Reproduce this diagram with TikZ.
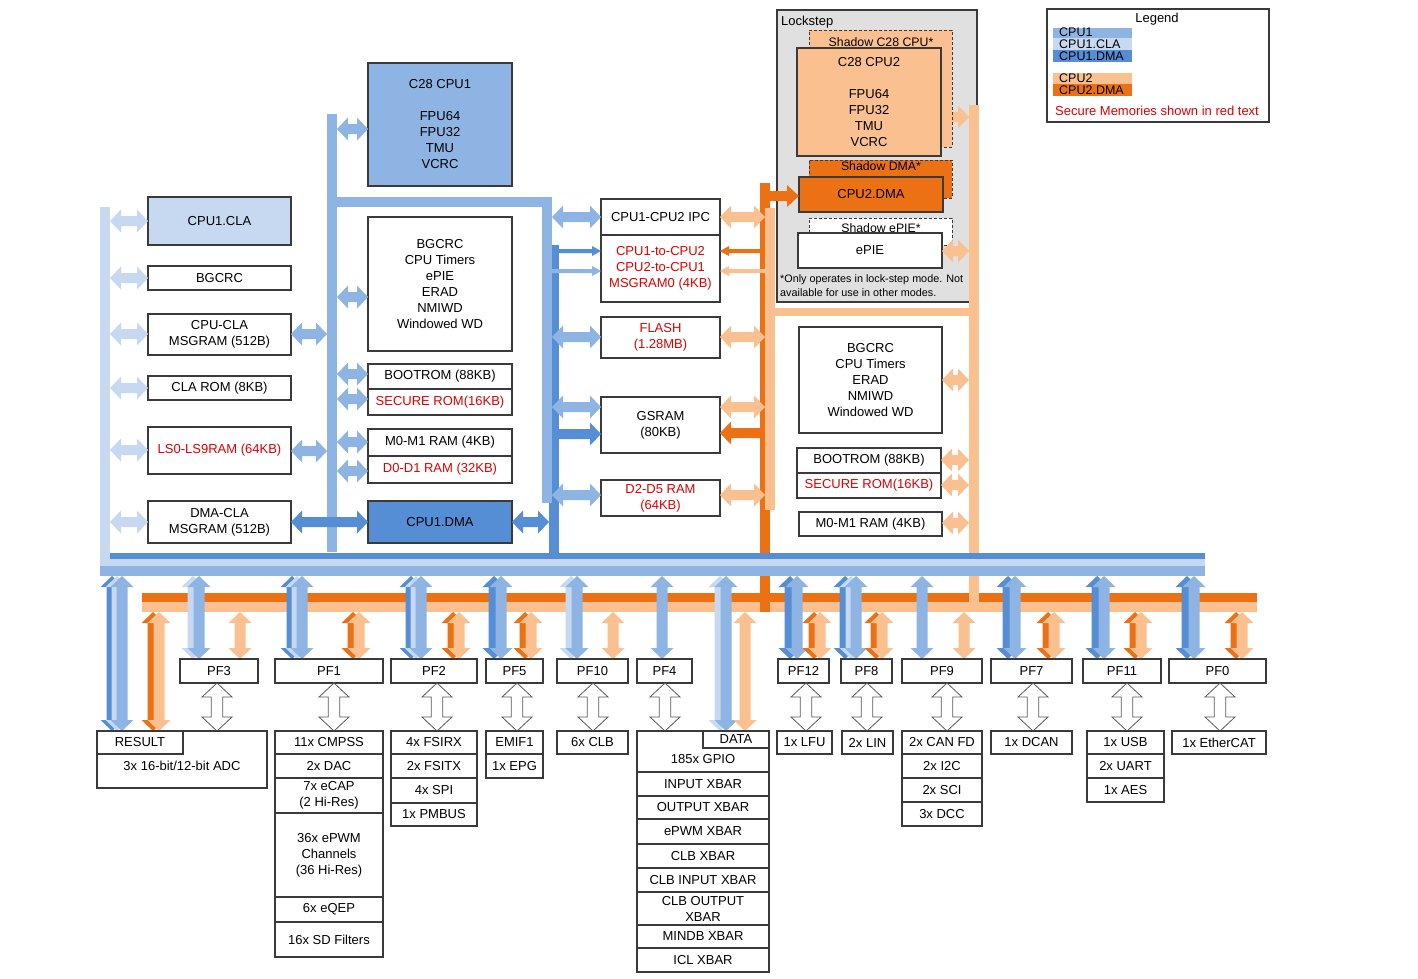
\documentclass[tikz,border=0pt]{standalone}
\usepackage{fontspec}
\setmainfont{Liberation Sans}
\definecolor{cpuone}{HTML}{8EB4E3}
\definecolor{cla}{HTML}{C6D9F1}
\definecolor{dmaone}{HTML}{558ED5}
\definecolor{cputwo}{HTML}{FAC090}
\definecolor{dmatwo}{HTML}{EC7014}
\definecolor{lockgray}{HTML}{E0E0E0}
\definecolor{bord}{HTML}{3A3A3A}
\definecolor{sred}{HTML}{DD0000}
% box from corners: name, x1, y1, x2, y2, style, text
\newcommand\bx[7]{\node[#6, minimum width={(#4)-(#2)}, minimum height={(#5)-(#3)}] (#1) at ({((#2)+(#4))/2},{((#3)+(#5))/2}) {#7};}
% vertical double block arrow: x, ytop, ybot, style, head half width, shaft half width, head length
\newcommand\vd[7]{\path[#4] ({#1},{#2}) -- ({#1+#5},{#2+#7}) -- ({#1+#6},{#2+#7}) -- ({#1+#6},{#3-#7}) -- ({#1+#5},{#3-#7}) -- ({#1},{#3}) -- ({#1-#5},{#3-#7}) -- ({#1-#6},{#3-#7}) -- ({#1-#6},{#2+#7}) -- ({#1-#5},{#2+#7}) -- cycle;}
% horizontal double block arrow: xleft, xright, y, style, hw, sw, hl
\newcommand\hd[7]{\path[#4] ({#1},{#3}) -- ({#1+#7},{#3-#5}) -- ({#1+#7},{#3-#6}) -- ({#2-#7},{#3-#6}) -- ({#2-#7},{#3-#5}) -- ({#2},{#3}) -- ({#2-#7},{#3+#5}) -- ({#2-#7},{#3+#6}) -- ({#1+#7},{#3+#6}) -- ({#1+#7},{#3+#5}) -- cycle;}
% horizontal single block arrow: xtail, xtip, y, style, hw, sw, signed hl
\newcommand\hs[7]{\path[#4] ({#1},{#3-#6}) -- ({#2-(#7)},{#3-#6}) -- ({#2-(#7)},{#3-#5}) -- ({#2},{#3}) -- ({#2-(#7)},{#3+#5}) -- ({#2-(#7)},{#3+#6}) -- ({#1},{#3+#6}) -- cycle;}
\newcommand\HA[4]{\hd{#1}{#2}{#3}{fill=#4}{11.5}{5}{11}}
\newcommand\BA[4]{\vd{#1}{#2}{#3}{fill=#4}{11.5}{5.5}{11}}
\newcommand\HO[3]{\vd{#1}{#2}{#3}{fill=white,draw=gray!70!black,line width=0.8pt}{15}{5.8}{14}}
\begin{document}
\begin{tikzpicture}[x=1pt,y=-1pt,
  font=\fontsize{13}{16}\selectfont,
  box/.style={draw=bord, line width=1.2pt, fill=white, inner sep=0pt, align=center, text=black},
  shadowbox/.style={draw=bord, line width=1pt, dash pattern=on 3pt off 2pt, inner sep=0pt},
  lbl/.style={inner sep=0pt, align=center},
  note/.style={inner sep=0pt, anchor=west, font=\fontsize{10.8}{13}\selectfont}]
\fill[white] (0,0) rectangle (1418,978);
\useasboundingbox (0,0) rectangle (1418,978);

% ---------- Lockstep region ----------
\bx{lock}{777}{10}{977}{302}{draw=bord,fill=lockgray,line width=1.2pt,inner sep=0pt}{}
\node[lbl, anchor=west] (locklbl) at (781,22) {Lockstep};
\HA{941}{969}{117}{cputwo}
\bx{shcpu}{809}{30}{952}{147}{shadowbox,fill=cputwo}{}
\node[lbl, font=\fontsize{12.3}{14}\selectfont] (shcpulbl) at (881,42) {Shadow C28 CPU*};
\bx{cpu2}{797}{48}{941}{156}{box,fill=cputwo}{C28 CPU2\\[16pt]FPU64\\FPU32\\TMU\\VCRC}
\bx{shdma}{809}{160}{952}{198}{shadowbox,fill=dmatwo}{}
\node[lbl, font=\fontsize{12.3}{14}\selectfont] (shdmalbl) at (881,166.5) {Shadow DMA*};
\bx{dma2}{799}{177}{943}{212}{box,fill=dmatwo}{CPU2.DMA}
\bx{shpie}{809}{218}{952}{245}{shadowbox,fill=white}{}
\node[lbl, font=\fontsize{12.3}{14}\selectfont] (shpielbl) at (881,228) {Shadow ePIE*};
\bx{epie}{798}{233}{942}{268}{box}{ePIE}
\node[note] (note1) at (780,280) {*Only operates in lock-step mode. Not};
\node[note] (note2) at (780,293) {available for use in other modes.};

% ---------- Legend ----------
\bx{legend}{1047}{9}{1269}{122}{box}{}
\node[lbl] (legendt) at (1157,19) {Legend};
\fill[cpuone] (1053,28) rectangle (1132,38);
\fill[cla] (1053,38) rectangle (1132,50);
\fill[dmaone] (1053,50) rectangle (1132,62);
\fill[cputwo] (1053,73) rectangle (1132,84);
\fill[dmatwo] (1053,84) rectangle (1132,96);
\node[lbl, anchor=west, font=\fontsize{12.5}{13}\selectfont] (lg1) at (1059,32.5) {CPU1};
\node[lbl, anchor=west, font=\fontsize{12.5}{13}\selectfont] (lg2) at (1059,44) {CPU1.CLA};
\node[lbl, anchor=west, font=\fontsize{12.5}{13}\selectfont] (lg3) at (1059,56) {CPU1.DMA};
\node[lbl, anchor=west, font=\fontsize{12.5}{13}\selectfont] (lg4) at (1059,78.5) {CPU2};
\node[lbl, anchor=west, font=\fontsize{12.5}{13}\selectfont] (lg5) at (1059,90) {CPU2.DMA};
\node[lbl, text=sred] (lg6) at (1157,111) {Secure Memories shown in red text};

% ---------- Buses ----------
\fill[dmatwo] (142,593) rectangle (1257,602);
\fill[cputwo] (142,602) rectangle (1257,612);
\fill[dmatwo] (760,183) rectangle (770,612);
\fill[cputwo] (765,208) rectangle (775,510);
\fill[cputwo] (770,308) rectangle (979,316);
\fill[cputwo] (969,105) rectangle (979,612);
\fill[dmaone] (549,245) rectangle (559,559);
\fill[cpuone] (542,197) rectangle (552,503);
\fill[cpuone] (327,197) rectangle (552,207);
\fill[cpuone] (327,114) rectangle (337,552);
\fill[dmaone] (110,553) rectangle (1205,559);
\fill[cla] (100,559) rectangle (1205,566);
\fill[cla] (100,207) rectangle (110,566);
\fill[cpuone] (100,566) rectangle (1205,576);

% ---------- Left column (CLA) ----------
\bx{cla1}{148}{197}{291}{245}{box,fill=cla}{CPU1.CLA}
\bx{bgcrc1}{148}{266}{291}{290}{box}{BGCRC}
\bx{cpucla}{148}{314}{291}{355}{box}{CPU-CLA\\MSGRAM (512B)}
\bx{clarom}{148}{376}{291}{400}{box}{CLA ROM (8KB)}
\bx{lsram}{148}{427}{291}{474}{box,text=sred}{LS0-LS9RAM (64KB)}
\bx{dmacla}{148}{501}{291}{543}{box}{DMA-CLA\\MSGRAM (512B)}
\HA{110}{148}{221}{cla}
\HA{110}{148}{278}{cla}
\HA{110}{148}{334}{cla}
\HA{110}{148}{388}{cla}
\HA{110}{148}{450}{cla}
\HA{110}{148}{522}{cla}
\HA{291}{327}{334}{cpuone}
\HA{291}{327}{451}{cpuone}

% ---------- CPU1 column ----------
\bx{cpu1}{368}{63}{512}{186}{box,fill=cpuone}{C28 CPU1\\[16pt]FPU64\\FPU32\\TMU\\VCRC}
\bx{per1}{368}{217}{512}{351}{box}{BGCRC\\CPU Timers\\ePIE\\ERAD\\NMIWD\\Windowed WD}
\bx{boot1}{368}{364}{512}{389}{box}{BOOTROM (88KB)}
\bx{sec1}{368}{389}{512}{415}{box,text=sred}{SECURE ROM(16KB)}
\bx{m01}{368}{429}{512}{456}{box}{M0-M1 RAM (4KB)}
\bx{d01}{368}{456}{512}{483}{box,text=sred}{D0-D1 RAM (32KB)}
\bx{dma1}{368}{501}{512}{543}{box,fill=dmaone}{CPU1.DMA}
\HA{337}{368}{129}{cpuone}
\HA{337}{368}{297}{cpuone}
\HA{337}{368}{374}{cpuone}
\HA{337}{368}{399}{cpuone}
\HA{337}{368}{442}{cpuone}
\HA{337}{368}{471}{cpuone}
\HA{291}{368}{522}{dmaone}
\HA{512}{549}{522}{dmaone}

% ---------- Shared middle column ----------
\bx{ipc}{601}{199}{720}{235}{box}{CPU1-CPU2 IPC}
\bx{msg}{601}{235}{720}{302}{box,text=sred}{CPU1-to-CPU2\\CPU2-to-CPU1\\MSGRAM0 (4KB)}
\bx{flash}{601}{317}{720}{358}{box,text=sred}{FLASH\\(1.28MB)}
\bx{gsram}{601}{397}{720}{453}{box}{GSRAM\\(80KB)}
\bx{dram}{601}{480}{720}{516}{box,text=sred}{D2-D5 RAM\\(64KB)}
\HA{552}{601}{217}{cpuone}
\HA{552}{601}{337}{cpuone}
\HA{552}{601}{407}{cpuone}
\HA{552}{601}{495}{cpuone}
\hs{559}{601}{251}{fill=dmaone}{5}{2}{9}
\hs{552}{601}{271}{fill=cpuone}{5}{2}{9}
\hs{559}{601}{434}{fill=dmaone}{11.5}{5}{11}
\HA{720}{765}{217}{cputwo}
\HA{720}{765}{337}{cputwo}
\HA{720}{765}{407}{cputwo}
\HA{720}{765}{495}{cputwo}
\hs{760}{720}{251}{fill=dmatwo}{5}{2}{-9}
\hs{765}{720}{271}{fill=cputwo}{5}{2}{-9}
\hs{760}{720}{433}{fill=dmatwo}{11.5}{5}{-11}
\hs{765}{799}{196}{fill=dmatwo}{11}{5}{12}

% ---------- CPU2 column ----------
\bx{per2}{799}{327}{942}{433}{box}{BGCRC\\CPU Timers\\ERAD\\NMIWD\\Windowed WD}
\bx{boot2}{797}{448}{941}{473}{box}{BOOTROM (88KB)}
\bx{sec2}{797}{473}{941}{498}{box,text=sred}{SECURE ROM(16KB)}
\bx{m02}{799}{512}{942}{536}{box}{M0-M1 RAM (4KB)}
\HA{942}{969}{251}{cputwo}
\HA{942}{969}{380}{cputwo}
\HA{941}{969}{460}{cputwo}
\HA{941}{969}{485}{cputwo}
\HA{942}{969}{523}{cputwo}

% ---------- Peripheral arrows ----------
\BA{112}{576}{731}{dmaone}\BA{117}{576}{731}{cla}\BA{122}{576}{731}{cpuone}
\BA{153}{612}{731}{dmatwo}\BA{159}{612}{731}{cputwo}
\BA{193}{576}{659}{cla}\BA{199}{576}{659}{cpuone}
\BA{240}{612}{659}{cputwo}
\BA{292}{576}{659}{dmaone}\BA{297}{576}{659}{cla}\BA{302}{576}{659}{cpuone}
\BA{353}{612}{659}{dmatwo}\BA{359}{612}{659}{cputwo}
\BA{411}{576}{659}{dmaone}\BA{416}{576}{659}{cla}\BA{421}{576}{659}{cpuone}
\BA{453}{612}{659}{dmatwo}\BA{459}{612}{659}{cputwo}
\BA{494}{576}{659}{dmaone}\BA{501}{576}{659}{cpuone}
\BA{525}{612}{659}{dmatwo}\BA{531}{612}{659}{cputwo}
\BA{571}{576}{659}{cla}\BA{577}{576}{659}{cpuone}
\BA{613}{612}{659}{cputwo}
\BA{662}{576}{659}{cpuone}
\BA{720}{576}{731}{cla}\BA{726}{576}{731}{cpuone}
\BA{745}{612}{731}{cputwo}
\BA{790}{576}{659}{dmaone}\BA{797}{576}{659}{cpuone}
\BA{814}{612}{659}{dmatwo}\BA{820}{612}{659}{cputwo}
\BA{845}{576}{659}{dmaone}\BA{851}{576}{659}{cla}\BA{856}{576}{659}{cpuone}
\BA{876}{612}{659}{dmatwo}\BA{882}{612}{659}{cputwo}
\BA{922}{576}{659}{cpuone}
\BA{964}{612}{659}{cputwo}
\BA{1008}{576}{659}{dmaone}\BA{1015}{576}{659}{cpuone}
\BA{1048}{612}{659}{dmatwo}\BA{1054}{612}{659}{cputwo}
\BA{1097}{576}{659}{dmaone}\BA{1104}{576}{659}{cpuone}
\BA{1135}{612}{659}{dmatwo}\BA{1141}{612}{659}{cputwo}
\BA{1187}{576}{659}{dmaone}\BA{1194}{576}{659}{cpuone}
\BA{1236}{612}{659}{dmatwo}\BA{1242}{612}{659}{cputwo}

% ---------- PF boxes ----------
\bx{pf3}{180}{659}{258}{683}{box}{PF3}
\bx{pf1}{275}{659}{383}{683}{box}{PF1}
\bx{pf2}{391}{659}{477}{683}{box}{PF2}
\bx{pf5}{486}{659}{543}{683}{box}{PF5}
\bx{pf10}{557}{659}{628}{683}{box}{PF10}
\bx{pf4}{637}{659}{692}{683}{box}{PF4}
\bx{pf12}{778}{659}{829}{683}{box}{PF12}
\bx{pf8}{841}{659}{892}{683}{box}{PF8}
\bx{pf9}{902}{659}{982}{683}{box}{PF9}
\bx{pf7}{991}{659}{1072}{683}{box}{PF7}
\bx{pf11}{1083}{659}{1161}{683}{box}{PF11}
\bx{pf0}{1169}{659}{1266}{683}{box}{PF0}
\HO{217}{683}{731}
\HO{334}{683}{731}
\HO{437}{683}{731}
\HO{517}{683}{731}
\HO{593}{683}{731}
\HO{665}{683}{731}
\HO{806}{683}{731}
\HO{867}{683}{731}
\HO{947}{683}{731}
\HO{1033}{683}{731}
\HO{1127}{683}{731}
\HO{1220}{683}{731}

% ---------- Peripheral blocks ----------
\bx{adc}{97}{731}{267}{788}{box}{}
\bx{result}{97}{731}{183}{754}{box}{RESULT}
\node[lbl] (adct) at (182,766) {3x 16-bit/12-bit ADC};

\bx{cmpss}{275}{731}{383}{754}{box}{11x CMPSS}
\bx{dac}{275}{754}{383}{778}{box}{2x DAC}
\bx{ecap}{275}{778}{383}{813}{box}{7x eCAP\\(2 Hi-Res)}
\bx{epwm}{275}{813}{383}{897}{box}{36x ePWM\\Channels\\(36 Hi-Res)}
\bx{eqep}{275}{897}{383}{922}{box}{6x eQEP}
\bx{sdf}{275}{922}{383}{957}{box}{16x SD Filters}

\bx{fsirx}{391}{731}{477}{754}{box}{4x FSIRX}
\bx{fsitx}{391}{754}{477}{778}{box}{2x FSITX}
\bx{spi}{391}{778}{477}{803}{box}{4x SPI}
\bx{pmbus}{391}{803}{477}{826}{box}{1x PMBUS}

\bx{emif}{486}{731}{543}{754}{box}{EMIF1}
\bx{epg}{486}{754}{543}{778}{box}{1x EPG}

\bx{clb}{557}{731}{628}{754}{box}{6x CLB}

\bx{gpio}{637}{731}{769}{772}{box}{}
\bx{data}{703}{731}{769}{748}{box}{DATA}
\node[lbl] (gpiot) at (703,759) {185x GPIO};
\bx{inxbar}{637}{772}{769}{796}{box}{INPUT XBAR}
\bx{outxbar}{637}{796}{769}{819}{box}{OUTPUT XBAR}
\bx{pwmxbar}{637}{819}{769}{844}{box}{ePWM XBAR}
\bx{clbxbar}{637}{844}{769}{868}{box}{CLB XBAR}
\bx{clbin}{637}{868}{769}{892}{box}{CLB INPUT XBAR}
\bx{clbout}{637}{892}{769}{925}{box}{CLB OUTPUT\\XBAR}
\bx{mindb}{637}{925}{769}{948}{box}{MINDB XBAR}
\bx{icl}{637}{948}{769}{972}{box}{ICL XBAR}

\bx{lfu}{777}{731}{832}{754}{box}{1x LFU}
\bx{lin}{842}{731}{893}{754}{box}{2x LIN}

\bx{canfd}{902}{731}{982}{754}{box}{2x CAN FD}
\bx{itc}{902}{754}{982}{778}{box}{2x I2C}
\bx{sci}{902}{778}{982}{802}{box}{2x SCI}
\bx{dcc}{902}{802}{982}{826}{box}{3x DCC}

\bx{dcan}{991}{731}{1072}{754}{box}{1x DCAN}

\bx{usb}{1087}{731}{1164}{754}{box}{1x USB}
\bx{uart}{1087}{754}{1164}{778}{box}{2x UART}
\bx{aes}{1087}{778}{1164}{802}{box}{1x AES}

\bx{ecat}{1172}{731}{1266}{754}{box}{1x EtherCAT}
\end{tikzpicture}
\end{document}
